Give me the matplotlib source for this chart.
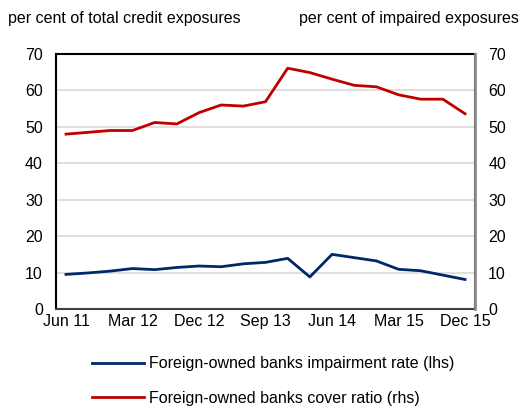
import numpy as np
import matplotlib.pyplot as plt

plt.rcParams['font.family'] = ['Liberation Sans', 'DejaVu Sans']

quarters = ['Jun 11', 'Sep 11', 'Dec 11', 'Mar 12', 'Jun 12', 'Sep 12', 'Dec 12',
            'Mar 13', 'Jun 13', 'Sep 13', 'Dec 13', 'Mar 14', 'Jun 14', 'Sep 14',
            'Dec 14', 'Mar 15', 'Jun 15', 'Sep 15', 'Dec 15']
impairment = [9.5, 9.9, 10.4, 11.1, 10.8, 11.4, 11.8, 11.6, 12.4, 12.8, 13.9,
              8.8, 15.0, 14.1, 13.2, 10.9, 10.5, 9.3, 8.1]
cover = [48.0, 48.5, 49.0, 49.0, 51.2, 50.8, 53.9, 56.0, 55.7, 56.9, 66.1,
         64.9, 63.1, 61.4, 61.0, 58.8, 57.6, 57.6, 53.6]
yticks = [0, 10, 20, 30, 40, 50, 60, 70]

x = np.arange(len(quarters))

fig = plt.figure(figsize=(5.2, 4.07), dpi=100)
ax = fig.add_axes([0.1077, 0.2408, 0.8058, 0.6265])
ax2 = ax.twinx()

blue = '#002868'
red = '#c00000'
l1, = ax.plot(x, impairment, color=blue, linewidth=2)
l2, = ax2.plot(x, cover, color=red, linewidth=2)

for a in (ax, ax2):
    a.set_ylim(0, 70)
    a.set_yticks(yticks)
    a.set_xlim(-0.45, len(x) - 0.55)
    a.tick_params(length=0, labelsize=11.5, pad=9.5)
ax.grid(axis='y', color='#d9d9d9', linewidth=1.2)
ax.set_axisbelow(True)
ax.set_xticks(x[::3])
ax.set_xticklabels(quarters[::3])
ax.tick_params(axis='x', pad=3.5)

ax.spines['left'].set_color('black')
ax.spines['top'].set_color('black')
ax.spines['bottom'].set_color('#404040')
ax2.spines['right'].set_color('#8c8c8c')
for s in ('left', 'top', 'bottom'):
    ax2.spines[s].set_visible(False)
for s in ax.spines.values():
    s.set_linewidth(1.5)
ax2.spines['right'].set_linewidth(2)

fig.text(0.015, 0.955, 'per cent of total credit exposures', fontsize=11.5, va='center')
fig.text(0.997, 0.955, 'per cent of impaired exposures', fontsize=11.5,
         va='center', ha='right')

fig.legend([l1, l2], ['Foreign-owned banks impairment rate (lhs)',
                      'Foreign-owned banks cover ratio (rhs)'],
           loc='lower left', bbox_to_anchor=(0.149, -0.032), frameon=False,
           fontsize=11.5, handlelength=3.25, labelspacing=1.2, handletextpad=0.35)

fig.savefig('out.png', dpi=100)
